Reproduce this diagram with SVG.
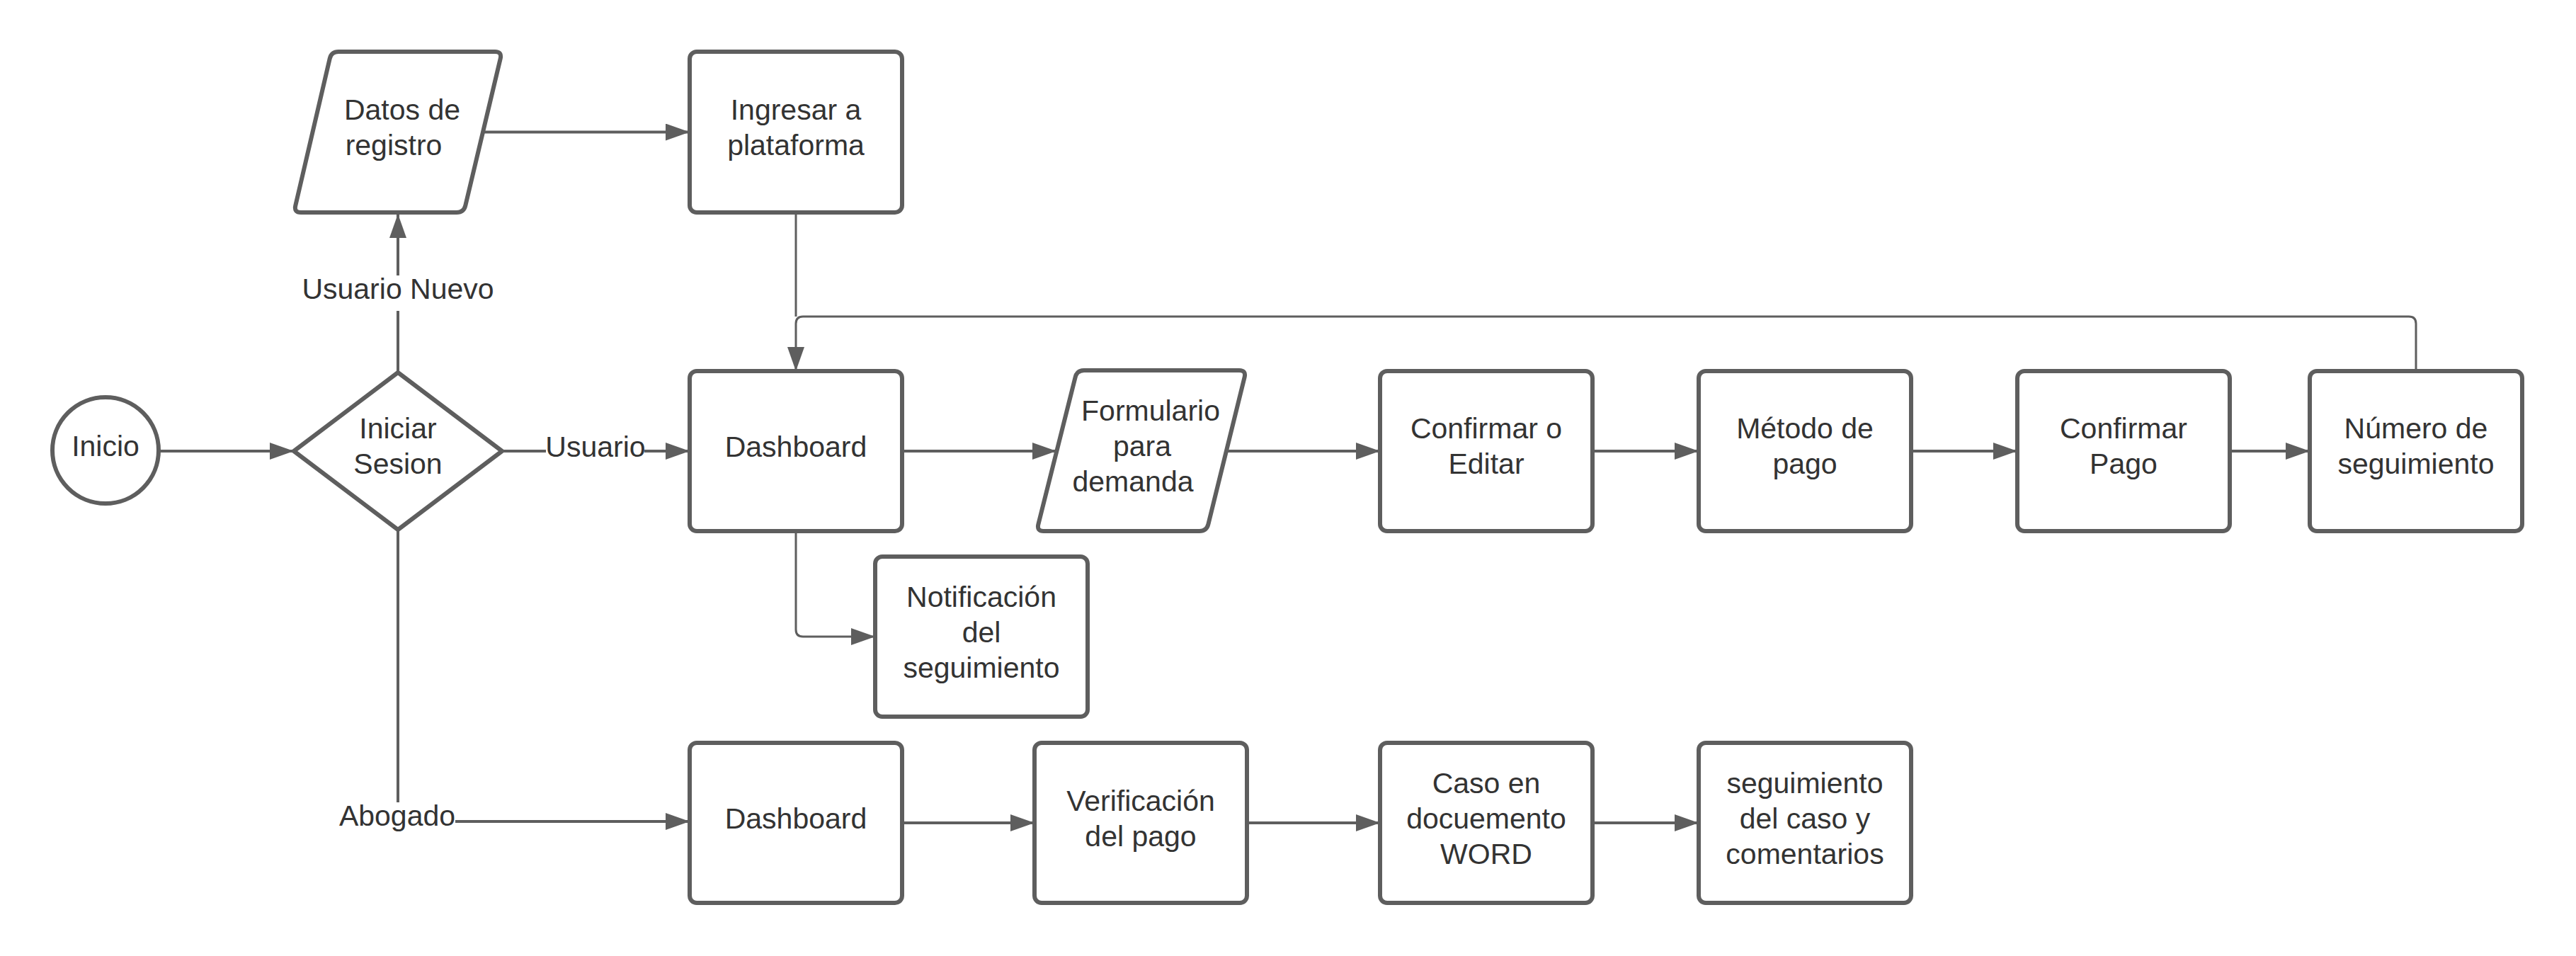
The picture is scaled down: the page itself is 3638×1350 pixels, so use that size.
<svg xmlns="http://www.w3.org/2000/svg" width="3638" height="1350" viewBox="0 0 3638 1350">
<style>
.s{fill:#ffffff;stroke:#5e5e5e;stroke-width:6;stroke-linejoin:round}
.t{font-family:"Liberation Sans",Arial,sans-serif;font-size:41px;fill:#333333;text-anchor:middle}
.c{fill:none;stroke:#5e5e5e;stroke-width:4}
.ct{fill:none;stroke:#5e5e5e;stroke-width:3}
</style>
<defs>
<marker id="ah" viewBox="0 0 34 24" refX="34" refY="12" markerWidth="34" markerHeight="24" markerUnits="userSpaceOnUse" orient="auto">
<path d="M0,0 L34,12 L0,24 Z" fill="#5e5e5e"/>
</marker>
</defs>
<rect width="3638" height="1350" fill="#ffffff"/>
<g id="connectors">
<path class="c" d="M224,637 H415" marker-end="url(#ah)"/>
<path class="c" d="M562,526 V439"/>
<path class="c" d="M562,389 V302" marker-end="url(#ah)"/>
<path class="c" d="M709,637 H771"/>
<path class="c" d="M910,637 H974" marker-end="url(#ah)"/>
<path class="c" d="M562,748 V1133"/>
<path class="c" d="M643,1160 H974" marker-end="url(#ah)"/>
<path class="c" d="M682,186.5 H974" marker-end="url(#ah)"/>
<path class="ct" d="M1124,300 V447"/>
<path class="ct" d="M3412,523 V457 Q3412,447 3402,447 H1134 Q1124,447 1124,457 V524" marker-end="url(#ah)"/>
<path class="ct" d="M1124,750 V889 Q1124,899 1134,899 H1236" marker-end="url(#ah)"/>
<path class="c" d="M1274,637 H1492" marker-end="url(#ah)"/>
<path class="c" d="M1732,637 H1949" marker-end="url(#ah)"/>
<path class="c" d="M2249,637 H2399" marker-end="url(#ah)"/>
<path class="c" d="M2699,637 H2849" marker-end="url(#ah)"/>
<path class="c" d="M3149,637 H3262" marker-end="url(#ah)"/>
<path class="c" d="M1274,1162 H1461" marker-end="url(#ah)"/>
<path class="c" d="M1761,1162 H1949" marker-end="url(#ah)"/>
<path class="c" d="M2249,1162 H2399" marker-end="url(#ah)"/>
<text class="t" x="562" y="422">Usuario Nuevo</text>
<text class="t" x="841" y="645">Usuario</text>
<text class="t" x="561" y="1166">Abogado</text>
</g>
<g id="inicio">
<circle class="s" cx="149" cy="636" r="75"/>
<text class="t" x="149" y="644">Inicio</text>
</g>
<g id="iniciar-sesion">
<path class="s" d="M562,526 L709,637 L562,748 L415,637 Z"/>
<text class="t" x="562" y="619">Iniciar</text>
<text class="t" x="562" y="669">Sesion</text>
</g>
<g id="datos-registro">
<path class="s" d="M478,73 L699,73 Q709,73 706.7,82.7 L657.3,290.3 Q655,300 645,300 L425,300 Q415,300 417.3,290.3 L465.7,82.7 Q468,73 478,73 Z"/>
<text class="t" x="568" y="169">Datos de</text>
<text class="t" x="556" y="219">registro</text>
</g>
<g id="ingresar">
<rect class="s" x="974" y="73" width="300" height="227" rx="10"/>
<text class="t" x="1124" y="169">Ingresar a</text>
<text class="t" x="1124" y="219">plataforma</text>
</g>
<g id="dashboard-usuario">
<rect class="s" x="974" y="524" width="300" height="226" rx="10"/>
<text class="t" x="1124" y="645">Dashboard</text>
</g>
<g id="formulario">
<path class="s" d="M1531,523 L1750,523 Q1760,523 1757.6,532.7 L1706.4,740.3 Q1704,750 1694,750 L1474,750 Q1464,750 1466.4,740.3 L1518.6,532.7 Q1521,523 1531,523 Z"/>
<text class="t" x="1625" y="594">Formulario</text>
<text class="t" x="1613" y="644">para</text>
<text class="t" x="1600" y="694">demanda</text>
</g>
<g id="confirmar-editar">
<rect class="s" x="1949" y="524" width="300" height="226" rx="10"/>
<text class="t" x="2099" y="619">Confirmar o</text>
<text class="t" x="2099" y="669">Editar</text>
</g>
<g id="metodo-pago">
<rect class="s" x="2399" y="524" width="300" height="226" rx="10"/>
<text class="t" x="2549" y="619">Método de</text>
<text class="t" x="2549" y="669">pago</text>
</g>
<g id="confirmar-pago">
<rect class="s" x="2849" y="524" width="300" height="226" rx="10"/>
<text class="t" x="2999" y="619">Confirmar</text>
<text class="t" x="2999" y="669">Pago</text>
</g>
<g id="numero-seguimiento">
<rect class="s" x="3262" y="524" width="300" height="226" rx="10"/>
<text class="t" x="3412" y="619">Número de</text>
<text class="t" x="3412" y="669">seguimiento</text>
</g>
<g id="notificacion">
<rect class="s" x="1236" y="786" width="300" height="226" rx="10"/>
<text class="t" x="1386" y="857">Notificación</text>
<text class="t" x="1386" y="907">del</text>
<text class="t" x="1386" y="957">seguimiento</text>
</g>
<g id="dashboard-abogado">
<rect class="s" x="974" y="1049" width="300" height="226" rx="10"/>
<text class="t" x="1124" y="1170">Dashboard</text>
</g>
<g id="verificacion">
<rect class="s" x="1461" y="1049" width="300" height="226" rx="10"/>
<text class="t" x="1611" y="1145">Verificación</text>
<text class="t" x="1611" y="1195">del pago</text>
</g>
<g id="caso-word">
<rect class="s" x="1949" y="1049" width="300" height="226" rx="10"/>
<text class="t" x="2099" y="1120">Caso en</text>
<text class="t" x="2099" y="1170">docuemento</text>
<text class="t" x="2099" y="1220">WORD</text>
</g>
<g id="seguimiento-caso">
<rect class="s" x="2399" y="1049" width="300" height="226" rx="10"/>
<text class="t" x="2549" y="1120">seguimiento</text>
<text class="t" x="2549" y="1170">del caso y</text>
<text class="t" x="2549" y="1220">comentarios</text>
</g>
</svg>
